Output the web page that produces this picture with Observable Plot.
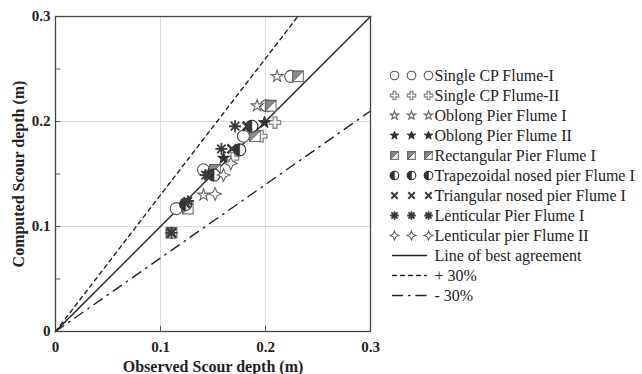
<!DOCTYPE html>
<html><head><meta charset="utf-8">
<script src="https://cdn.jsdelivr.net/npm/d3@7"></script>
<script src="https://cdn.jsdelivr.net/npm/@observablehq/plot@0.6"></script>
<style>
body{margin:0;background:#fff;}
#wrap{position:relative;width:642px;height:374px;font-family:"Liberation Serif","Times New Roman",serif;}
#main{position:absolute;left:0;top:0;}
#legend{position:absolute;left:380px;top:60px;}
</style>
</head><body>
<div id="wrap"><div id="main"></div><div id="legend"></div></div>
<script>
// ---- data (observed, computed scour depth in m) ----
const cp1Obs = [0.115, 0.141, 0.179, 0.201, 0.224];
const cp1Comp = [0.117, 0.154, 0.186, 0.215, 0.243];
const cp2Obs = [0.169, 0.196, 0.209];
const cp2Comp = [0.165, 0.186, 0.199];
const oblong1Obs = [0.141, 0.192, 0.211];
const oblong1Comp = [0.130, 0.215, 0.243];
const oblong2Obs = [0.126, 0.146, 0.160, 0.199];
const oblong2Comp = [0.123, 0.150, 0.165, 0.199];
const rectObs = [0.1105, 0.126, 0.152, 0.190, 0.205, 0.231];
const rectComp = [0.094, 0.117, 0.154, 0.186, 0.215, 0.243];
const trapObs = [0.124, 0.151, 0.1755, 0.187];
const trapComp = [0.121, 0.149, 0.173, 0.1955];
const triObs = [0.1105, 0.124, 0.146, 0.168, 0.1825];
const triComp = [0.094, 0.122, 0.149, 0.174, 0.1955];
const lent1Obs = [0.1105, 0.126, 0.143, 0.158, 0.171];
const lent1Comp = [0.094, 0.124, 0.149, 0.174, 0.1955];
const lent2Obs = [0.152, 0.160, 0.167];
const lent2Comp = [0.131, 0.149, 0.160];

const seriesNames = ["Single CP Flume-I","Single CP Flume-II","Oblong Pier Flume I","Oblong Pier Flume II",
  "Rectangular Pier Flume I","Trapezoidal nosed pier Flume I","Triangular nosed pier Flume I",
  "Lenticular Pier Flume I","Lenticular pier Flume II"];
const lineNames = ["Line of best agreement","+ 30%","- 30%"];
const lineRatios = [1, 1.3, 0.7];
const axisTicks = [0, 0.1, 0.2, 0.3];
const gridTicks = [0.1, 0.2];
const xMinorTicks = [0.1, 0.2];
const yMinorTicks = [0.05, 0.1, 0.15, 0.2, 0.25];
const xLabel = "Observed Scour depth (m)";
const yLabel = "Computed Scour depth (m)";

// ---- custom symbols ----
const halfLeft = {draw(ctx, size){const r=Math.sqrt(size/Math.PI);ctx.moveTo(0,-r);ctx.arc(0,0,r,-Math.PI/2,Math.PI/2,true);ctx.closePath();}};
const triUL = {draw(ctx, size){const s=Math.sqrt(size)/2;ctx.moveTo(-s,-s);ctx.lineTo(s,-s);ctx.lineTo(-s,s);ctx.closePath();}};
const asterisk8 = {draw(ctx, size){const r=Math.sqrt(size/Math.PI);for(let k=0;k<4;k++){const a=k*Math.PI/4;ctx.moveTo(r*Math.cos(a),r*Math.sin(a));ctx.lineTo(-r*Math.cos(a),-r*Math.sin(a));}}};
const sparkle = {draw(ctx, size){const r=Math.sqrt(size/Math.PI);const q=0.3*r;ctx.moveTo(0,-r);ctx.lineTo(q,-q);ctx.lineTo(r,0);ctx.lineTo(q,q);ctx.lineTo(0,r);ctx.lineTo(-q,q);ctx.lineTo(-r,0);ctx.lineTo(-q,-q);ctx.closePath();}};
const timesSym = {draw(ctx, size){const r=Math.sqrt(size/Math.PI)*0.75;ctx.moveTo(-r,-r);ctx.lineTo(r,r);ctx.moveTo(r,-r);ctx.lineTo(-r,r);}};

const D="#303030";
const styles = [
  [{symbol:d3.symbolCircle, fill:"white", stroke:"#555", strokeWidth:1.1, k:1}],
  [{symbol:d3.symbolCross, fill:"#f4f4f4", stroke:"#888", strokeWidth:1.3, k:0.8}],
  [{symbol:d3.symbolStar, fill:"white", stroke:"#666", strokeWidth:1.1, k:0.62}],
  [{symbol:d3.symbolStar, fill:D, stroke:D, strokeWidth:1, k:0.62}],
  [{symbol:d3.symbolSquare, fill:"white", stroke:"#777", strokeWidth:1.2, k:1},
   {symbol:triUL, fill:"#8a8a8a", stroke:"#555", strokeWidth:0.8, k:1}],
  [{symbol:d3.symbolCircle, fill:"white", stroke:D, strokeWidth:1.1, k:1},
   {symbol:halfLeft, fill:D, stroke:D, strokeWidth:0.5, k:1}],
  [{symbol:timesSym, fill:"none", stroke:"#3a3a3a", strokeWidth:2.6, k:1}],
  [{symbol:asterisk8, fill:"none", stroke:"#3a3a3a", strokeWidth:1.8, k:1}],
  [{symbol:sparkle, fill:"white", stroke:"#666", strokeWidth:1.1, k:1.05}]
];
const obsArr = [cp1Obs,cp2Obs,oblong1Obs,oblong2Obs,rectObs,trapObs,triObs,lent1Obs,lent2Obs];
const compArr = [cp1Comp,cp2Comp,oblong1Comp,oblong2Comp,rectComp,trapComp,triComp,lent1Comp,lent2Comp];
const lineDash = [null, "4,4", "10,6,1.5,6"];

const fmt = d => d === 0 ? "0" : d.toFixed(1);
const FONT = '"Liberation Serif","Times New Roman",serif';

// ---- main chart ----
const mainMarks = [
  Plot.ruleX(gridTicks, {stroke:"#dadada", strokeWidth:1}),
  Plot.ruleY(gridTicks, {stroke:"#dadada", strokeWidth:1}),
  Plot.ruleX(xMinorTicks, {x:d=>d, y1:0, y2:0.005, stroke:"#555"}),
  Plot.ruleY(yMinorTicks, {y:d=>d, x1:0, x2:0.005, stroke:"#555"})
];
lineRatios.forEach((m, i) => {
  const xEnd = Math.min(0.3, 0.3 / m);
  const pts = [{x:0, y:0}, {x:xEnd, y:xEnd*m}];
  mainMarks.push(Plot.line(pts, {x:"x", y:"y", stroke:"#222", strokeWidth:1.4, strokeDasharray: lineDash[i] || undefined}));
});
seriesNames.forEach((name, i) => {
  const pts = obsArr[i].map((o, j) => ({obs:o, comp:compArr[i][j]}));
  styles[i].forEach(s => {
    mainMarks.push(Plot.dot(pts, {x:"obs", y:"comp", symbol:s.symbol, r:6*s.k, fill:s.fill, stroke:s.stroke, strokeWidth:s.strokeWidth}));
  });
});
mainMarks.push(
  Plot.frame({stroke:"#444", strokeWidth:1.3}),
  Plot.text(axisTicks, {x:d=>d, frameAnchor:"bottom", dy:16, lineAnchor:"middle", text:fmt, fontWeight:"bold", fontSize:15}),
  Plot.text(axisTicks, {y:d=>d, frameAnchor:"left", dx:-5, textAnchor:"end", lineAnchor:"middle", text:fmt, fontWeight:"bold", fontSize:15}),
  Plot.text([xLabel], {frameAnchor:"bottom", dy:35, lineAnchor:"middle", textAnchor:"middle", fontWeight:"bold", fontSize:16}),
  Plot.text([yLabel], {frameAnchor:"left", dx:-37, rotate:-90, textAnchor:"middle", lineAnchor:"middle", fontWeight:"bold", fontSize:16})
);
const main = Plot.plot({
  width:380, height:374, marginLeft:55, marginRight:10, marginTop:16, marginBottom:43,
  x:{domain:[0,0.3], axis:null}, y:{domain:[0,0.3], axis:null},
  style:{fontFamily:FONT, color:"#222", background:"white"},
  marks: mainMarks
});
document.getElementById("main").appendChild(main);

// ---- legend ----
const legendLabels = seriesNames.concat(lineNames);
const slots = [0, 1, 2];
const legMarks = [];
seriesNames.forEach((name, i) => {
  const pts = slots.map(s => ({slot:s, label:name}));
  styles[i].forEach(s => {
    legMarks.push(Plot.dot(pts, {x:"slot", y:"label", symbol:s.symbol, r:4.3*s.k, fill:s.fill, stroke:s.stroke, strokeWidth:Math.min(s.strokeWidth, 2)}));
  });
});
lineNames.forEach((name, i) => {
  const pts = [{slot:0, label:name}, {slot:2, label:name}];
  legMarks.push(Plot.line(pts, {x:"slot", y:"label", stroke:"#222", strokeWidth:1.3, strokeDasharray: lineDash[i] || undefined, dx:-2}));
});
legMarks.push(Plot.text(legendLabels, {x:()=>2, y:d=>d, text:d=>d, dx:6, textAnchor:"start", lineAnchor:"middle", fontSize:16, fill:"#222"}));
const legend = Plot.plot({
  width:262, height:250, margin:0,
  x:{type:"point", domain:slots, range:[13,48], padding:0, axis:null},
  y:{type:"point", domain:legendLabels, range:[13,237], padding:0, axis:null},
  style:{fontFamily:FONT, background:"transparent", overflow:"visible"},
  marks: legMarks
});
document.getElementById("legend").appendChild(legend);
</script>
</body></html>
